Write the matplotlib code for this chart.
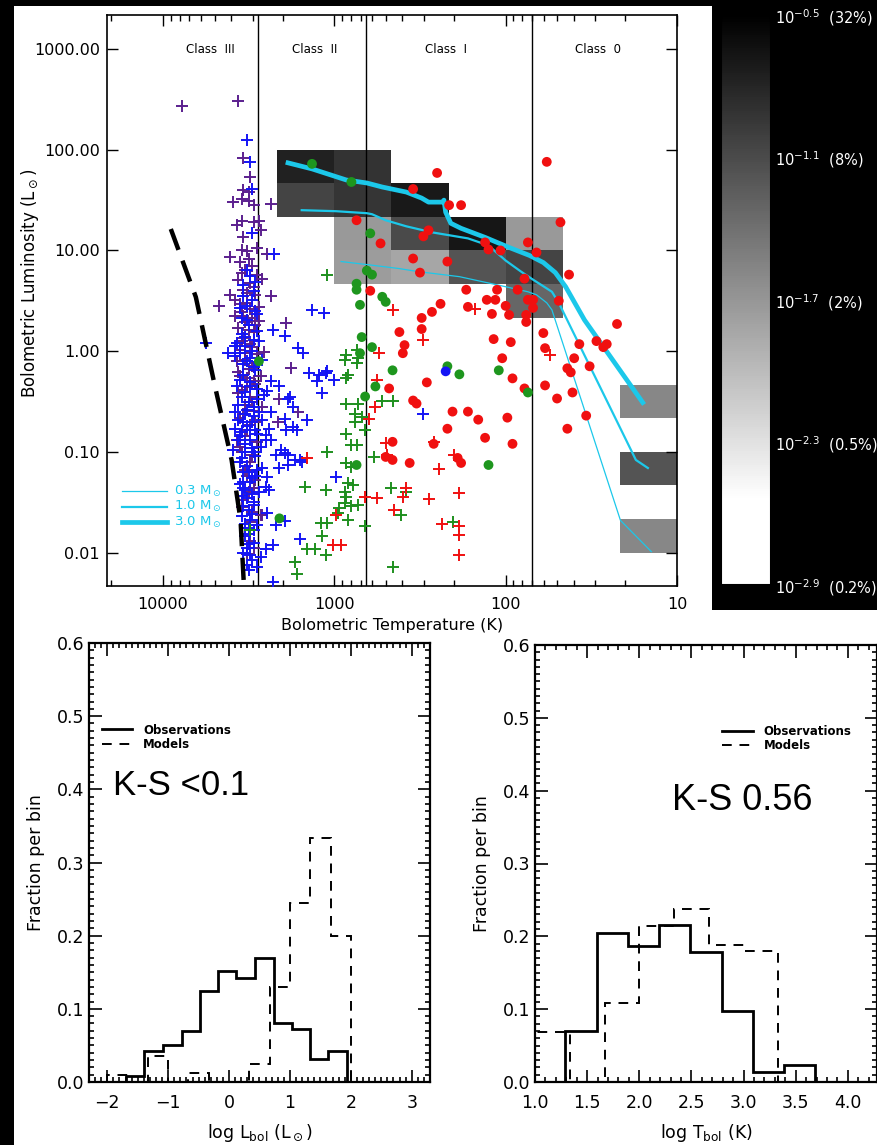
import numpy as np
import matplotlib
matplotlib.use('Agg')
import matplotlib.pyplot as plt
from matplotlib.colors import LinearSegmentedColormap, Normalize
from matplotlib.patches import Rectangle
from matplotlib.ticker import FixedLocator, NullLocator, MultipleLocator, LogLocator, NullFormatter

# ---------------- data (log10 T_bol [K], log10 L_bol [Lsun]) ----------------
purple_logT = [3.89, 3.56, 3.53, 3.49, 3.53, 3.50, 3.59, 3.54, 3.50, 3.47, 3.37, 3.57, 3.54, 3.47, 3.44,
               3.43, 3.53, 3.54, 3.51, 3.45, 3.61, 3.39, 3.42, 3.61, 3.37, 3.67, 3.28, 3.41, 3.25, 3.32,
               3.21, 3.33, 3.57, 3.43, 3.51,
               3.55, 3.48, 3.52, 3.45, 3.56, 3.49, 3.53, 3.46, 3.58, 3.51, 3.44, 3.54, 3.48, 3.52, 3.56,
               3.47, 3.53, 3.49, 3.55, 3.45, 3.52, 3.48, 3.56, 3.51, 3.46, 3.54, 3.49, 3.52, 3.47, 3.55,
               3.49, 3.52, 3.45, 3.54, 3.49, 3.51, 3.47, 3.53, 3.48, 3.42, 3.49,
               3.50, 3.54, 3.47, 3.51, 3.55, 3.49, 3.53, 3.46, 3.50, 3.54, 3.48, 3.52, 3.45, 3.50, 3.55,
               3.47, 3.51, 3.56, 3.48, 3.53, 3.46, 3.51, 3.55, 3.48, 3.52, 3.46, 3.50, 3.54, 3.49, 3.47,
               3.44, 3.43, 3.58, 3.57, 3.42]
purple_logL = [2.43, 2.48, 1.92, 1.73, 1.60, 1.58, 1.48, 1.51, 1.49, 1.45, 1.46, 1.25, 1.29, 1.28, 1.29,
               1.20, 1.13, 1.00, 0.99, 1.02, 0.94, 0.96, 0.72, 0.56, 0.55, 0.45, 0.28, -0.01, -0.17, -0.47,
               -0.60, -0.70, -0.88, -1.63, -2.01,
               0.89, 0.85, 0.81, 0.76, 0.71, 0.68, 0.61, 0.56, 0.51, 0.48, 0.44, 0.39, 0.33, 0.29, 0.23,
               0.19, 0.13, 0.07, 0.01, -0.03, -0.09, -0.15, -0.21, -0.27, -0.33, -0.39, -0.45, -0.53, -0.59, -0.66,
               -0.73, -0.84, -0.90, -1.00, -1.10, -1.24, -1.36, -1.48, -1.60, -1.63, -1.88,
               0.92, 0.78, 0.64, 0.58, 0.47, 0.42, 0.35, 0.26, 0.21, 0.10, 0.04, -0.02, -0.12, -0.18, -0.25,
               -0.30, -0.36, -0.42, -0.50, -0.62, -0.70, -0.78, -0.95, -1.03, -1.18, -1.28, -1.40, -1.55, -1.70, -1.95,
               0.30, -0.25, 0.35, -0.10, -0.55]

blue_logT = [3.51, 3.46, 3.53, 3.48, 3.55, 3.45, 3.51, 3.54, 3.47, 3.52, 3.58, 3.49, 3.53, 3.46, 3.55,
             3.49, 3.52, 3.45, 3.56, 3.51, 3.47, 3.53, 3.49, 3.55, 3.46, 3.52, 3.48, 3.54, 3.46, 3.51,
             3.53, 3.48, 3.55, 3.45, 3.52, 3.48, 3.53, 3.49, 3.47, 3.52, 3.51, 3.48, 3.58, 3.42, 3.42,
             3.41, 3.56, 3.53, 3.47, 3.54, 3.45, 3.50,
             3.51, 3.49, 3.48, 3.48, 3.35, 3.13, 3.06, 3.29, 3.36, 3.62, 3.21, 3.18, 3.15, 3.10, 3.07,
             3.05, 3.37, 3.39, 3.26, 3.24, 3.37, 3.29, 3.16, 3.28, 3.22, 3.38, 3.58, 3.59, 3.40, 3.37,
             3.40, 3.31, 3.27, 3.34, 3.23, 3.20, 3.27, 3.32, 3.42, 3.39, 3.40, 3.38, 3.39, 3.29, 3.34,
             3.20, 3.40, 3.36, 3.50, 3.43, 3.50, 3.45, 3.36, 3.75, 3.57, 3.09, 3.04, 3.00, 3.32, 3.27,
             3.24, 3.29, 3.19, 2.99, 2.48,
             3.49, 3.53, 3.47, 3.51, 3.46, 3.54, 3.50, 3.45, 3.52, 3.48, 3.55, 3.51, 3.47, 3.53, 3.49,
             3.45, 3.54, 3.50, 3.47, 3.52, 3.56, 3.48, 3.51, 3.45, 3.54, 3.49, 3.52, 3.47, 3.55, 3.50,
             3.46, 3.53, 3.49, 3.51, 3.47, 3.54, 3.50, 3.52, 3.48, 3.50, 3.47, 3.53, 3.49, 3.51, 3.44,
             3.43, 3.44, 3.57, 3.58, 3.44]
blue_logL = [0.81, 0.69, 0.55, 0.51, 0.43, 0.37, 0.31, 0.17, 0.11, 0.05, -0.05, -0.07, -0.13, -0.19, -0.29,
             -0.35, -0.41, -0.47, -0.53, -0.58, -0.64, -0.70, -0.78, -0.84, -0.78, -0.92, -0.96, -1.06, -1.04, -1.14,
             -1.20, -1.26, -1.32, -1.18, -1.38, -1.42, -1.54, -1.68, -1.78, -1.84, -1.95, -2.07, 0.05, -0.09, -0.68,
             -0.44, -0.88, -1.30, -1.53, -1.64, -1.73, -1.76,
             2.10, 1.88, 1.61, 1.17, 0.96, 0.41, 0.38, 0.15, 0.21, -0.02, 0.03, -0.02, -0.22, -0.30, -0.42,
             -0.22, -0.30, -0.40, -0.45, -0.55, -0.60, -0.67, -0.68, -0.78, -0.78, -0.77, -0.77, -0.98, -0.88, -0.88,
             -0.83, -0.98, -1.03, -1.03, -1.08, -1.08, -1.13, -1.16, -1.16, -1.25, -1.35, -1.38, -1.61, -1.69, -1.73,
             -1.86, -1.96, -1.92, -1.91, -2.04, -2.17, -2.14, -2.29, 0.08, 0.08, -0.24, -0.20, -0.29, -0.35, -0.47,
             -0.75, -1.01, -1.10, -1.25, -0.62,
             0.75, 0.66, 0.60, 0.45, 0.40, 0.33, 0.26, 0.20, 0.14, 0.00, -0.02, -0.10, -0.16, -0.24, -0.31,
             -0.38, -0.45, -0.50, -0.55, -0.62, -0.68, -0.70, -0.74, -0.82, -0.80, -0.88, -1.00, -1.00, -1.10, -1.20,
             -1.24, -1.36, -1.30, -1.46, -1.50, -1.44, -1.58, -1.72, -1.62, -1.82, -1.90, -2.00, -2.02, -2.12, -0.60,
             -0.95, -1.40, -0.35, -0.60, 0.10]

green_logT = [3.04, 3.17, 3.05, 3.49, 3.16, 3.11, 3.08, 3.05, 3.23, 2.93, 2.87, 2.94, 2.86, 2.92, 2.93,
              2.87, 2.86, 2.93, 2.88, 2.84, 2.82, 2.88, 2.93, 2.90, 2.87, 3.04, 2.93, 2.90, 2.92, 2.89,
              2.94, 2.93, 2.94, 2.97, 2.98, 2.90, 2.86, 2.92, 3.04, 3.07, 3.22, 2.82, 2.66, 2.61, 2.67,
              2.72, 2.66, 2.77, 2.58, 2.31]
green_logL = [0.76, -1.35, -1.38, -1.78, -1.96, -1.96, -1.71, -2.02, -2.09, -0.04, 0.01, -0.09, -0.07, -0.24, -0.27,
              -0.12, -0.52, -0.52, -0.62, -0.65, -0.78, -0.70, -0.82, -0.93, -0.93, -1.00, -1.11, -1.15, -1.31, -1.33,
              -1.40, -1.45, -1.51, -1.56, -1.61, -1.54, -1.53, -1.68, -1.71, -1.84, -2.21, -1.74, -2.14, -1.63, -1.36,
              -0.49, -0.49, -1.05, -1.40, -1.70]

redx_logT = [3.16, 2.74, 2.66, 2.76, 2.75, 2.80, 2.70, 2.69, 2.99, 3.01, 2.96, 2.82, 2.75, 2.65, 2.60,
             2.58, 2.48, 2.18, 2.42, 2.30, 2.39, 2.27, 2.45, 2.37, 2.27, 2.27, 2.27, 1.74]
redx_logL = [-1.06, -0.02, 0.41, -0.55, -0.29, -0.67, -0.91, -1.03, -1.63, -1.92, -1.92, -1.45, -1.46, -1.58, -1.45,
             -1.36, 0.11, 0.42, -0.90, -1.03, -1.17, -1.41, -1.47, -1.72, -1.74, -1.83, -2.02, -0.04]

redo_logT = [2.54, 2.87, 2.73, 2.48, 2.54, 2.50, 2.79, 2.40, 1.76, 2.33, 2.26, 1.68, 2.45, 2.12, 2.10,
             2.03, 1.87, 1.82, 2.34, 1.63, 1.89, 2.23, 2.05, 1.93, 1.69, 2.38, 2.11, 2.06, 1.87, 1.84,
             1.84, 2.00, 2.22, 2.43, 2.08, 1.98, 1.88, 1.88, 2.62, 2.49, 2.49, 2.59, 2.60, 2.07, 1.97,
             1.78, 1.77, 1.57, 1.47, 1.43, 1.41, 1.35, 2.02, 1.60, 1.64, 1.62, 1.51, 1.96, 1.89, 1.77,
             1.61, 1.70, 2.46, 2.54, 2.52, 1.53, 1.64, 2.31, 2.22, 2.16, 1.99, 2.34, 2.12, 1.96, 2.42,
             2.56, 2.28, 2.26, 2.68, 2.66, 2.66, 2.70]
redo_logL = [1.61, 1.30, 1.07, 1.14, 0.92, 0.78, 0.60, 1.77, 1.88, 1.45, 1.45, 1.28, 1.20, 1.08, 1.01,
             1.00, 1.08, 0.98, 0.89, 0.76, 0.72, 0.61, 0.61, 0.61, 0.50, 0.47, 0.51, 0.51, 0.51, 0.43,
             0.51, 0.45, 0.44, 0.39, 0.37, 0.36, 0.36, 0.29, 0.19, 0.33, 0.22, 0.06, -0.02, 0.12, 0.09,
             0.18, 0.03, 0.07, 0.10, 0.04, 0.07, 0.27, -0.07, -0.07, -0.17, -0.21, -0.15, -0.27, -0.37, -0.34,
             -0.41, -0.47, -0.31, -0.49, -0.52, -0.64, -0.77, -0.60, -0.60, -0.68, -0.66, -0.77, -0.86, -0.92, -0.92,
             -1.11, -1.06, -1.11, -0.37, -0.90, -1.08, -1.05]

greeno_logT = [3.13, 2.90, 2.79, 2.81, 2.78, 2.87, 2.87, 2.72, 2.85, 2.84, 2.85, 2.78, 2.66, 2.76, 2.82,
               2.87, 3.32, 3.44, 2.70, 2.34, 2.27, 2.04, 1.87, 2.10]
greeno_logL = [1.86, 1.68, 1.17, 0.80, 0.76, 0.67, 0.61, 0.54, 0.46, 0.14, -0.02, 0.04, -0.19, -0.35, -0.45,
               -1.13, -1.66, -0.10, 0.49, -0.15, -0.23, -0.19, -0.41, -1.13]

blueo_logT = [2.35]
blueo_logL = [-0.20]

# evolutionary tracks (0.3, 1.0, 3.0 Msun)
trk03_logT = [2.96, 2.81, 2.62, 2.51, 2.27, 2.00, 1.87, 1.82, 1.76, 1.73, 1.33, 1.15]
trk03_logL = [0.89, 0.86, 0.82, 0.79, 0.74, 0.64, 0.59, 0.56, 0.48, 0.41, -1.68, -1.99]
trk10_logT = [3.19, 2.99, 2.81, 2.78, 2.70, 2.58, 2.48, 2.43, 2.22, 2.10, 2.00, 1.91, 1.84, 1.73, 1.69, 1.24, 1.17]
trk10_logL = [1.40, 1.39, 1.37, 1.36, 1.30, 1.24, 1.20, 1.18, 1.12, 1.05, 0.90, 0.79, 0.71, 0.59, 0.48, -1.08, -1.16]
trk30_logT = [3.27, 3.13, 2.93, 2.81, 2.72, 2.58, 2.49, 2.45, 2.37, 2.36, 2.35, 2.32, 2.26, 2.12, 1.98,
              1.86, 1.78, 1.71, 1.65, 1.54, 1.20]
trk30_logL = [1.87, 1.81, 1.70, 1.67, 1.63, 1.58, 1.52, 1.48, 1.48, 1.50, 1.38, 1.27, 1.22, 1.13, 1.03,
              0.95, 0.88, 0.78, 0.64, 0.31, -0.51]
track_labels = ['0.3', '1.0', '3.0']

# dashed black curve
dash_logT = [3.954, 3.808, 3.698, 3.599, 3.547, 3.529]
dash_logL = [1.213, 0.538, -0.336, -1.081, -1.677, -2.273]

# model density cells (lower-left corner in log T, log L; log fraction)
cell_logT_lo = [3.0, 2.667, 3.0, 2.667, 2.333, 2.667, 2.333, 2.0, 1.667, 2.667, 2.333, 2.0, 1.667, 1.667, 1.0, 1.0, 1.0]
cell_logL_lo = [1.667, 1.667, 1.333, 1.333, 1.333, 1.0, 1.0, 1.0, 1.0, 0.667, 0.667, 0.667, 0.667, 0.333, -0.667, -1.333, -2.0]
cell_logfrac = [-0.77, -0.91, -1.05, -0.93, -0.70, -1.72, -1.10, -0.68, -1.72, -1.75, -1.83, -1.17, -1.05, -1.32, -1.58, -1.17, -1.58]

cb_ticks = [-2.9, -2.3, -1.7, -1.1, -0.5]
cb_pct = ['0.2%', '0.5%', '2%', '8%', '32%']

class_bounds = [2800, 650, 70]
class_names = ['Class  III', 'Class  II', 'Class  I', 'Class  0']
class_label_T = [5260, 1306, 224, 29]

# histograms
lbol_obs_edges = [-1.69, -1.39, -1.09, -0.78, -0.48, -0.18, 0.12, 0.42, 0.73, 1.03, 1.33, 1.63, 1.93]
lbol_obs_frac = [0.008, 0.043, 0.05, 0.07, 0.125, 0.152, 0.142, 0.17, 0.08, 0.072, 0.032, 0.042]
lbol_mod_edges = [-2.0, -1.667, -1.333, -1.0, -0.667, -0.333, 0.0, 0.333, 0.667, 1.0, 1.333, 1.667, 2.0]
lbol_mod_frac = [0.01, 0.0, 0.035, 0.0, 0.012, 0.0, 0.0, 0.025, 0.13, 0.245, 0.333, 0.2]
tbol_obs_edges = [1.29, 1.59, 1.89, 2.19, 2.49, 2.79, 3.09, 3.39, 3.69]
tbol_obs_frac = [0.07, 0.205, 0.187, 0.215, 0.178, 0.098, 0.014, 0.023]
tbol_mod_edges = [1.0, 1.333, 1.667, 2.0, 2.333, 2.667, 3.0, 3.333]
tbol_mod_frac = [0.068, 0.0, 0.108, 0.214, 0.238, 0.188, 0.18]

# ---------------- figure ----------------
W, H = 878, 1145
fig = plt.figure(figsize=(W / 100, H / 100), dpi=100, facecolor='black')


def px_axes(l, t, r, b):
    return fig.add_axes([l / W, 1 - b / H, (r - l) / W, (b - t) / H])


fig.patches.append(Rectangle((14 / W, 1 - 612 / H), (712 - 14) / W, (612 - 6) / H,
                             transform=fig.transFigure, facecolor='white', edgecolor='none', zorder=-10))
fig.patches.append(Rectangle((14 / W, 0), (W - 14) / W, 1 - 610 / H,
                             transform=fig.transFigure, facecolor='white', edgecolor='none', zorder=-10))

CYAN = '#1CC8EA'
cmap = LinearSegmentedColormap.from_list('dens', [(0, 'white'), (0.15, 'white'), (1, 'black')])
norm = Normalize(vmin=-2.9, vmax=-0.5)

ax = px_axes(107, 15, 677, 586)
ax.set_xscale('log')
ax.set_yscale('log')

# density cells via pcolormesh on a 1/3-dex grid
tedges = 1.0 + np.arange(8) / 3.0
ledges = -2.0 + np.arange(13) / 3.0
grid = np.full((len(ledges) - 1, len(tedges) - 1), np.nan)
for t0, l0, v in zip(cell_logT_lo, cell_logL_lo, cell_logfrac):
    i = int(round((t0 - 1.0) * 3))
    j = int(round((l0 + 2.0) * 3))
    grid[j, i] = v
mesh = ax.pcolormesh(10 ** tedges, 10 ** ledges, np.ma.masked_invalid(grid), cmap=cmap, norm=norm,
                     zorder=1, edgecolors='none')

for tb in class_bounds:
    ax.axvline(tb, color='black', lw=1.0, zorder=2)
for name, tx in zip(class_names, class_label_T):
    ax.text(tx, 1000, name, ha='center', va='center', fontsize=8.5, zorder=6)

P = lambda a: 10 ** np.asarray(a)
ax.scatter(P(purple_logT), P(purple_logL), marker='+', s=80, linewidths=1.4, color='#5B1F8E', zorder=3)
ax.scatter(P(blue_logT), P(blue_logL), marker='+', s=80, linewidths=1.4, color='#1414F5', zorder=3)
ax.scatter(P(green_logT), P(green_logL), marker='+', s=80, linewidths=1.4, color='#1E8F1E', zorder=3)
ax.scatter(P(redx_logT), P(redx_logL), marker='+', s=80, linewidths=1.4, color='#F01010', zorder=3)

ax.plot(P(trk03_logT), P(trk03_logL), color=CYAN, lw=0.9, zorder=4)
ax.plot(P(trk10_logT), P(trk10_logL), color=CYAN, lw=1.6, zorder=4)
ax.plot(P(trk30_logT), P(trk30_logL), color=CYAN, lw=3.4, zorder=4)

ax.scatter(P(redo_logT), P(redo_logL), marker='o', s=50, color='#F01010', edgecolors='none', zorder=5)
ax.scatter(P(greeno_logT), P(greeno_logL), marker='o', s=50, color='#1E961E', edgecolors='none', zorder=5)
ax.scatter(P(blueo_logT), P(blueo_logL), marker='o', s=50, color='#1414F5', edgecolors='none', zorder=5)

ax.plot(P(dash_logT), P(dash_logL), color='black', lw=3.2, ls=(0, (5, 2.6)), zorder=4)

# track legend
for (yf, lw, lab) in zip([0.166, 0.139, 0.112], [0.9, 1.6, 3.4], track_labels):
    ax.plot([0.026, 0.105], [yf, yf], transform=ax.transAxes, color=CYAN, lw=lw, zorder=6)
    ax.text(0.118, yf, lab + r' M$_\odot$', transform=ax.transAxes, color=CYAN, fontsize=9.5,
            va='center', ha='left', zorder=6)

ax.set_xlim(21200, 10)
ax.set_ylim(0.00466, 2178)
ax.xaxis.set_major_locator(FixedLocator([10000, 1000, 100, 10]))
ax.set_xticklabels(['10000', '1000', '100', '10'])
ax.xaxis.set_minor_locator(LogLocator(base=10, subs=np.arange(2, 10)))
ax.xaxis.set_minor_formatter(NullFormatter())
ax.yaxis.set_major_locator(FixedLocator([0.01, 0.1, 1, 10, 100, 1000]))
ax.set_yticklabels(['0.01', '0.10', '1.00', '10.00', '100.00', '1000.00'])
ax.yaxis.set_minor_locator(NullLocator())
ax.tick_params(which='both', direction='in', top=True, right=True, labelsize=11.5, width=1.0)
ax.tick_params(which='major', length=8)
ax.tick_params(which='minor', length=4)
ax.tick_params(axis='x', pad=8)
ax.tick_params(axis='y', pad=5)
ax.set_xlabel('Bolometric Temperature (K)', fontsize=11.5, labelpad=4)
ax.set_ylabel(r'Bolometric Luminosity (L$_\odot$)', fontsize=12)
ax.yaxis.set_label_coords(-0.116, 0.53)
for sp in ax.spines.values():
    sp.set_linewidth(1.2)

# colorbar
cax = px_axes(721, 15, 771, 585)
cb = fig.colorbar(mesh, cax=cax, ticks=cb_ticks)
cb.ax.set_yticklabels([r'10$^{%s}$  (%s)' % (('%.1f' % t).replace('-', '\u2212'), p) for t, p in zip(cb_ticks, cb_pct)],
                      color='white', fontsize=10.5)
cb.ax.tick_params(length=0, pad=3)
cb.outline.set_edgecolor('black')
cb.outline.set_linewidth(1.5)


def style_hist(a, xmaj, xmin):
    a.set_ylim(0, 0.6)
    a.xaxis.set_major_locator(MultipleLocator(xmaj))
    a.xaxis.set_minor_locator(MultipleLocator(xmin))
    a.yaxis.set_major_locator(MultipleLocator(0.1))
    a.yaxis.set_minor_locator(MultipleLocator(0.01))
    a.tick_params(which='both', direction='in', top=True, right=True, labelsize=12.5, width=1.2)
    a.tick_params(which='major', length=9)
    a.tick_params(which='minor', length=3.5)
    a.tick_params(axis='x', pad=9)
    a.set_ylabel('Fraction per bin', fontsize=12.5, labelpad=8)
    for sp in a.spines.values():
        sp.set_linewidth(1.6)


axl = px_axes(89, 643, 430, 1082)
axl.stairs(lbol_obs_frac, lbol_obs_edges, color='black', lw=2.0, label='Observations')
axl.stairs(lbol_mod_frac, lbol_mod_edges, color='black', lw=1.4, ls=(0, (5, 4)), label='Models')
axl.set_xlim(-2.3, 3.3)
style_hist(axl, 1, 0.1)
axl.set_yticklabels(['%.1f' % v for v in axl.get_yticks()])
axl.set_xlabel(r'log L$_{\rm bol}$ (L$_\odot$)', fontsize=12.5, labelpad=7)
axl.legend(loc='upper left', bbox_to_anchor=(0.02, 0.83), frameon=False, handlelength=2.6,
           prop={'weight': 'bold', 'size': 8.5}, borderpad=0, labelspacing=0.1, handletextpad=0.9)
axl.text(0.07, 0.675, 'K-S <0.1', transform=axl.transAxes, fontsize=25, family='Liberation Sans',
         va='center', ha='left')

axr = px_axes(535, 645, 877, 1082)
axr.stairs(tbol_obs_frac, tbol_obs_edges, color='black', lw=2.0, label='Observations')
axr.stairs(tbol_mod_frac, tbol_mod_edges, color='black', lw=1.4, ls=(0, (5, 4)), label='Models')
axr.set_xlim(1.0, 4.28)
style_hist(axr, 0.5, 0.1)
axr.set_yticklabels(['%.1f' % v for v in axr.get_yticks()])
axr.set_xticklabels(['%.1f' % v for v in axr.get_xticks()])
axr.set_xlabel(r'log T$_{\rm bol}$ (K)', fontsize=12.5, labelpad=7)
axr.legend(loc='upper left', bbox_to_anchor=(0.53, 0.83), frameon=False, handlelength=2.6,
           prop={'weight': 'bold', 'size': 8.5}, borderpad=0, labelspacing=0.1, handletextpad=0.9)
axr.text(0.40, 0.645, 'K-S 0.56', transform=axr.transAxes, fontsize=26, family='Liberation Sans',
         va='center', ha='left')

fig.savefig('out.png', dpi=100, facecolor='black')
